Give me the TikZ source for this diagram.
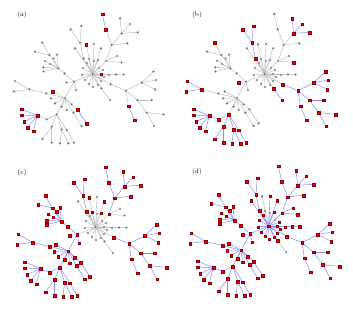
\documentclass[tikz,border=0pt]{standalone}
\usetikzlibrary{backgrounds}
\definecolor{infred}{RGB}{240,0,0}
\definecolor{okgrey}{RGB}{95,95,95}
\definecolor{infblue}{RGB}{135,135,250}
\definecolor{okline}{RGB}{190,190,190}

% node/x/y/parent, positions of panel (a)
\newcommand\tree{1/92.5/74/0, 2/83/68/1, 3/87/63/1, 4/82/75/1, 5/85/80/1,
  6/89/84/1, 7/93/87/1, 8/98/85/1, 9/101/81/1, 10/104/77/1, 11/101/74/1,
  12/103/70/1, 13/99/68/1, 14/94/61/1, 15/89/59/1, 16/98/60/1, 17/109/75/1,
  18/116/74.5/1, 19/123.5/74.5/1, 20/86/44.3/1, 21/94/44/1, 22/101/48.3/1,
  23/83.5/58.3/1, 24/80/42.7/23, 25/70.7/29.3/24, 26/81.3/26/24,
  27/106/61/1, 28/117/56/27, 29/121.5/62.5/27, 30/111.7/45/27,
  31/127.3/43.3/30, 32/121.7/33.3/30, 33/130/24/32, 34/137.7/32.3/32,
  35/120/18.3/32, 36/105.7/29.3/30, 37/102.3/14/36,
  38/110.7/84.3/1, 39/126/90.7/38, 40/141.7/82.7/39, 41/153.3/71.7/40,
  42/156/80/40, 43/155/89.3/40, 44/137.3/100/39, 45/151.7/100/44,
  46/146.7/112.7/44, 47/163.3/114.3/46, 48/154/126/46, 49/128.3/106/39,
  50/134.3/120/49, 51/110/100/52, 52/101.3/88.3/1,
  53/74/81.7/1, 54/66.5/82.5/53, 55/58.3/68.3/56, 56/64.5/73.3/53,
  57/49.3/55/55, 58/42.3/42.7/57, 59/35/51.7/57, 60/57/54.7/55,
  61/45/61/55, 62/50/64/55, 63/43.3/67.3/55, 64/43.5/71.5/55, 65/53.5/58.5/55,
  66/65/98/53, 67/46.3/93.5/66, 68/29.3/89.3/67, 69/15/81/68, 70/14/91.5/68,
  71/52.7/91.5/66, 72/51/98.3/66, 73/55/103.3/66, 74/61.7/106.7/66, 75/66.7/110/66,
  76/71.7/104.3/66, 77/77.3/109.3/66, 78/86.7/123.3/77, 79/81.7/126/98,
  80/56.7/114.3/66, 81/46.7/119.3/80, 82/37.3/115.7/81, 83/21.7/109/82,
  84/21.7/115/82, 85/24/121.7/82, 86/27.7/127.3/82, 87/33.3/131/82,
  88/51.7/126.7/80, 89/42.3/139/88, 90/51.7/142.7/88, 91/61.7/129.3/80,
  92/60/143.3/91, 93/68.3/143.3/91, 94/66.7/130/80, 95/74/142.7/94,
  96/76/90/53, 97/75/48.3/1, 98/73.3/112.7/66}

\begin{document}
\begin{tikzpicture}[x=1pt,y=-1pt,
    oknode/.style={circle,inner sep=0pt,minimum size=2.4pt,fill=okgrey,draw=okgrey!40,line width=0.15pt},
    infnode/.style={rectangle,inner sep=0pt,minimum size=2.8pt,fill=infred,draw=infred!60!black,line width=0.15pt},
    okedge/.style={draw=okline,line width=0.5pt},
    infedge/.style={draw=infblue,line width=0.5pt},
    tag/.style={font=\fontsize{6.5}{7}\selectfont,inner sep=0pt}]
  \useasboundingbox (0,0) rectangle (353,311);
  \foreach \p/\dx/\dy/\lx/\ly/\reds/\oks in {
      a/0/0/22/15/{11,20,36,37,49,50,71,77,78,82,83,84,85,86,87}/{0},
      b/172/0/197/15/{23,24,25,26,29,32,33,34,35,38,39,40,41,42,43,44,45,46,47,48,49,50,51,52,54,58,68,69,70,80,81,82,83,84,85,86,87,88,89,90,91,92,93,94,95}/{0},
      c/3/153/22/173/{1,...,98}/{1,2,3,4,5,6,7,8,9,10,11,12,13,14,17,18,19,21,28,29,51,52,97},
      d/176/152/197/172/{1,...,98}/{13,14,15,20,51}}{
    \foreach \k in {1,...,98} {\expandafter\xdef\csname inf\p\k\endcsname{0}}
    \foreach \k in \reds {\expandafter\xdef\csname inf\p\k\endcsname{1}}
    \foreach \k in \oks {\expandafter\xdef\csname inf\p\k\endcsname{0}}
    \node[tag] (tag-\p) at (\lx,\ly) {(\p)};
    \foreach \i/\x/\y/\up in \tree {
      \ifnum\csname inf\p\i\endcsname>0 \def\look{infnode}\else\def\look{oknode}\fi
      \node[\look] (\p-\i) at ({\dx+\x},{\dy+\y}) {};
    }
    \begin{scope}[on background layer]
      \foreach \i/\x/\y/\up in \tree {
        \ifnum\up>0
          \def\look{okedge}
          \ifnum\csname inf\p\i\endcsname>0 \ifnum\csname inf\p\up\endcsname>0 \def\look{infedge}\fi\fi
          \draw[\look] (\p-\up) -- (\p-\i);
        \fi
      }
    \end{scope}
  }
\end{tikzpicture}
\end{document}
